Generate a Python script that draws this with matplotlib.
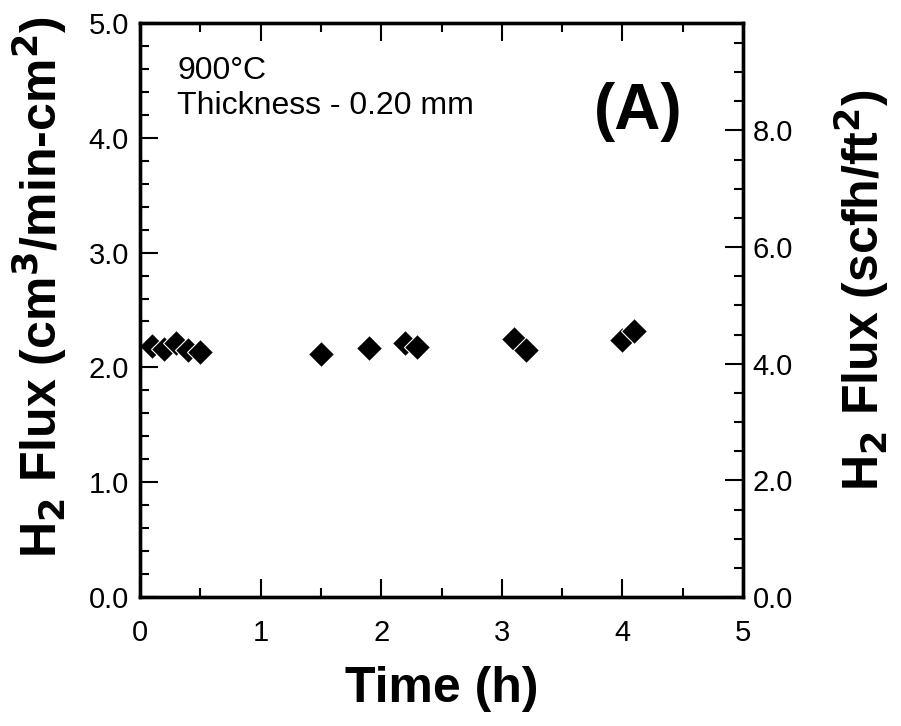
import matplotlib
matplotlib.use("Agg")
import matplotlib.pyplot as plt
from matplotlib.ticker import MultipleLocator, FormatStrFormatter

plt.rcParams['font.family'] = ['Liberation Sans', 'DejaVu Sans']

time_h = [0.1, 0.2, 0.3, 0.4, 0.5, 1.5, 1.9, 2.2, 2.3, 3.1, 3.2, 4.0, 4.1]
flux = [2.19, 2.16, 2.21, 2.15, 2.13, 2.12, 2.17, 2.21, 2.18, 2.25, 2.15, 2.24, 2.32]

conv = 1.9685  # cm3/min-cm2 -> scfh/ft2

fig = plt.figure(figsize=(9.01, 7.26), dpi=100)
ax = fig.add_axes([140/901, 1-597/726, 603/901, 574/726])
ax.plot(time_h, flux, linestyle='none', marker='D', markersize=13.5,
        markerfacecolor='black', markeredgecolor='white', markeredgewidth=0.8)

ax.set_xlim(0, 5)
ax.set_ylim(0, 5)
ax.xaxis.set_major_locator(MultipleLocator(1))
ax.xaxis.set_minor_locator(MultipleLocator(0.5))
ax.yaxis.set_major_locator(MultipleLocator(1))
ax.yaxis.set_minor_locator(MultipleLocator(0.2))
ax.yaxis.set_major_formatter(FormatStrFormatter('%.1f'))

ax.tick_params(which='both', direction='in', top=True, right=False, width=1.5,
               labelsize=21)
ax.tick_params(which='major', length=13, pad=8)
ax.tick_params(which='minor', length=6.5)
ax.tick_params(axis='x', which='major', pad=16)
for s in ax.spines.values():
    s.set_linewidth(2.4)

ax2 = ax.twinx()
ax2.set_ylim(0, 5*conv)
ax2.yaxis.set_major_locator(MultipleLocator(2))
ax2.yaxis.set_minor_locator(MultipleLocator(0.5))
ax2.yaxis.set_major_formatter(FormatStrFormatter('%.1f'))
ax2.tick_params(which='both', direction='in', width=1.5, labelsize=21)
ax2.tick_params(which='major', length=13, pad=7)
ax2.tick_params(which='minor', length=6.5)
for s in ax2.spines.values():
    s.set_linewidth(2.4)

ax.set_xlabel('Time (h)', fontsize=36, fontweight='bold')
ax.xaxis.set_label_coords(0.5, -0.2)
ax.xaxis.label.set_va('bottom')
ax.set_ylabel(r'H$_\mathbf{2}$ Flux (cm$^\mathbf{3}$/min-cm$^\mathbf{2}$)', fontsize=36,
              fontweight='bold')
ax.yaxis.set_label_coords(-0.118, 0.54)
ax2.set_ylabel(r'H$_\mathbf{2}$ Flux (scfh/ft$^\mathbf{2}$)', fontsize=36,
               fontweight='bold')
ax2.yaxis.set_label_coords(1.148, 0.535)

ax.text(0.062, 0.943, '900°C\nThickness - 0.20 mm', transform=ax.transAxes,
        fontsize=23, va='top', ha='left', linespacing=1.25)
ax.text(0.752, 0.845, '(A)', transform=ax.transAxes, fontsize=46,
        fontweight='bold', va='center', ha='left')

fig.savefig('out.png', dpi=100)
